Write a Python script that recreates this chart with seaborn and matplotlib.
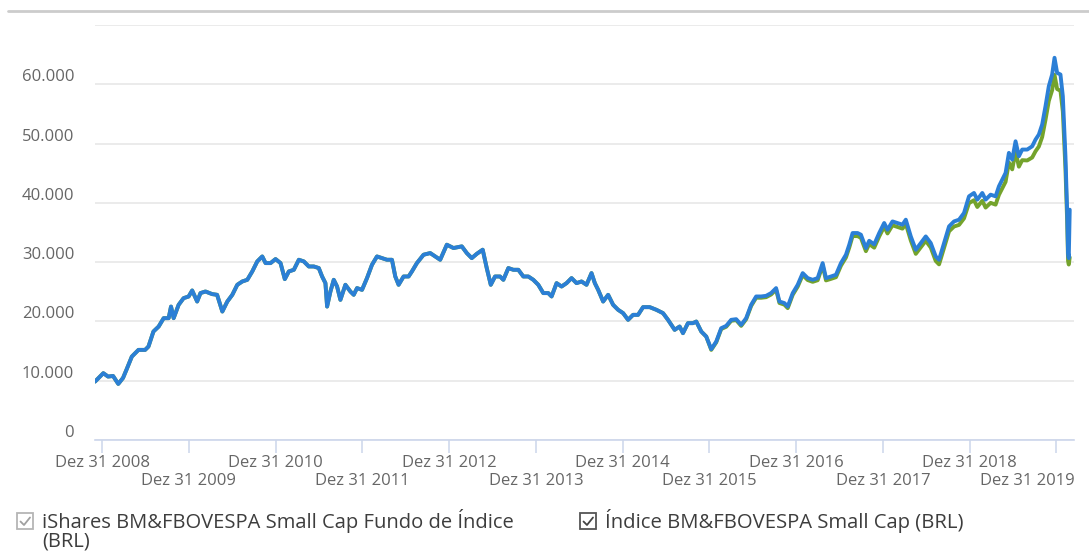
import matplotlib
matplotlib.use("Agg")
import matplotlib.pyplot as plt
import matplotlib.transforms as mtrans
from matplotlib.patches import Rectangle
from matplotlib.lines import Line2D
import seaborn as sns
import pandas as pd

# ---------------- data ----------------
dates = [
    "2008-12-01",
    "2009-01-05", "2009-01-25", "2009-02-15", "2009-03-09", "2009-03-29", "2009-04-14", "2009-05-05",
    "2009-06-02", "2009-06-30", "2009-07-14", "2009-08-04", "2009-08-26", "2009-09-16", "2009-10-07",
    "2009-10-17", "2009-10-28", "2009-11-18", "2009-12-09", "2009-12-30",
    "2010-01-14", "2010-02-04", "2010-02-18", "2010-03-11", "2010-04-08", "2010-04-29", "2010-05-21",
    "2010-06-11", "2010-07-02", "2010-07-23", "2010-08-13", "2010-09-03", "2010-09-24", "2010-10-15",
    "2010-11-05", "2010-11-19", "2010-12-10", "2010-12-31",
    "2011-01-21", "2011-02-08", "2011-02-25", "2011-03-18", "2011-04-08", "2011-04-29", "2011-05-20",
    "2011-06-10", "2011-07-01", "2011-07-15", "2011-07-29", "2011-08-05", "2011-08-19", "2011-09-02",
    "2011-09-16", "2011-09-30", "2011-10-21", "2011-11-11", "2011-11-25", "2011-12-09", "2011-12-30",
    "2012-01-20", "2012-02-10", "2012-03-02", "2012-03-23", "2012-04-13", "2012-05-04", "2012-05-18",
    "2012-06-01", "2012-06-22", "2012-07-13", "2012-07-27", "2012-08-17", "2012-09-14", "2012-10-12",
    "2012-11-02", "2012-11-23", "2012-12-21",
    "2013-01-18", "2013-02-22", "2013-03-15", "2013-04-05", "2013-04-26", "2013-05-21", "2013-06-07",
    "2013-06-24", "2013-07-12", "2013-08-02", "2013-08-16", "2013-09-06", "2013-09-27", "2013-10-18",
    "2013-11-08", "2013-11-29", "2013-12-20",
    "2014-01-10", "2014-01-31", "2014-02-21", "2014-03-07", "2014-03-28", "2014-04-18", "2014-05-09",
    "2014-05-30", "2014-06-20", "2014-07-11", "2014-08-01", "2014-08-22", "2014-09-05", "2014-09-19",
    "2014-10-10", "2014-10-31", "2014-11-21", "2014-12-12",
    "2015-01-02", "2015-01-23", "2015-02-13", "2015-03-06", "2015-03-27", "2015-04-24", "2015-05-22",
    "2015-06-19", "2015-07-10", "2015-08-07", "2015-08-28", "2015-09-11", "2015-10-02", "2015-10-23",
    "2015-11-06", "2015-11-27", "2015-12-18",
    "2016-01-08", "2016-01-29", "2016-02-19", "2016-03-11", "2016-04-01", "2016-04-22", "2016-05-13",
    "2016-06-03", "2016-06-24", "2016-07-15", "2016-08-05", "2016-08-26", "2016-09-16", "2016-10-07",
    "2016-10-21", "2016-11-11", "2016-11-25", "2016-12-16",
    "2017-01-06", "2017-01-27", "2017-02-17", "2017-03-10", "2017-03-31", "2017-04-21", "2017-05-05",
    "2017-05-26", "2017-06-16", "2017-07-07", "2017-07-28", "2017-08-11", "2017-08-25", "2017-09-15",
    "2017-09-29", "2017-10-20", "2017-11-03", "2017-11-24", "2017-12-15",
    "2018-01-05", "2018-01-19", "2018-02-09", "2018-03-02", "2018-03-23", "2018-04-06", "2018-04-27",
    "2018-05-18", "2018-06-08", "2018-06-29", "2018-07-20", "2018-08-10", "2018-08-24", "2018-09-14",
    "2018-10-05", "2018-10-26", "2018-11-16", "2018-12-07", "2018-12-28",
    "2019-01-18", "2019-02-01", "2019-02-22", "2019-03-08", "2019-03-29", "2019-04-19", "2019-05-03",
    "2019-05-17", "2019-05-31", "2019-06-14", "2019-06-28", "2019-07-12", "2019-07-26", "2019-08-09",
    "2019-08-30", "2019-09-20", "2019-10-04", "2019-10-18", "2019-11-01", "2019-11-15", "2019-11-29",
    "2019-12-13", "2019-12-23",
    "2020-01-03", "2020-01-17", "2020-01-27", "2020-02-07", "2020-02-14", "2020-02-18", "2020-02-21",
    "2020-02-25",
]

# Índice BM&FBOVESPA Small Cap (BRL) - blue line
indice = [
    9850,
    11270, 10700, 10800, 9460, 10470, 12000, 14070,
    15200, 15200, 15760, 18300, 19140, 20550, 20550,
    22510, 20550, 22800, 23930, 24200,
    25220, 23360, 24780, 25050, 24610, 24490, 21670,
    23360, 24490, 26180, 26740, 27020, 28430, 30120,
    30960, 29840, 29840, 30520,
    29840, 27140, 28430, 28710, 30400, 30120, 29270,
    29270, 29000, 27580, 26460, 22510, 25050, 27020,
    25890, 23640, 26180, 25050, 24490, 25620, 25330,
    27310, 29560, 30960, 30680, 30400, 30400, 27580,
    26180, 27580, 27580, 28430, 29840, 31250, 31530,
    30960, 30400, 32940,
    32380, 32660, 31530, 30680, 31400, 32100, 29000,
    26180, 27580, 27580, 27020, 29000, 28710, 28710,
    27580, 27580, 27020,
    26180, 24780, 24780, 24210, 26460, 25890, 26460,
    27310, 26460, 26740, 26180, 28150, 26460, 25330,
    23360, 24490, 22800, 21960,
    21400, 20270, 21110, 21110, 22410, 22410, 21960,
    21400, 20270, 18580, 19140, 18020, 19710, 19710,
    19980, 18300, 17450,
    15320, 16600, 18860, 19250, 20270, 20380, 19420,
    20550, 22800, 24210, 24210, 24320, 24780, 25620,
    23360, 23090, 22510, 24780,
    26180, 28150, 27310, 27020, 27310, 29840, 27310,
    27580, 27870, 29840, 31250, 32940, 34910, 34910,
    34630, 32380, 33600, 33000, 34910,
    36600, 35470, 36870, 36600, 36320, 37160, 34340,
    32090, 33220, 34340, 33220, 30960, 30400, 33220,
    36030, 36870, 37160, 38290, 41100,
    41670, 40540, 41670, 40540, 41380, 41100, 42790,
    43920, 45050, 48430, 47300, 50390, 47860, 48990,
    48990, 49540, 50670, 51520, 53210, 56300, 59680,
    61650, 64470,
    61930, 61650, 57980, 47860, 38850, 31530, 30680,
    38850,
]

# iShares BM&FBOVESPA Small Cap Fundo de Índice (BRL) - green line
ishares = [
    9850,
    11270, 10700, 10800, 9460, 10470, 12000, 14070,
    15200, 15200, 15760, 18300, 19140, 20550, 20550,
    22510, 20550, 22800, 23930, 24200,
    25220, 23360, 24780, 25050, 24610, 24490, 21670,
    23360, 24490, 26180, 26740, 27020, 28430, 30120,
    30960, 29840, 29840, 30520,
    29840, 27140, 28430, 28710, 30400, 30120, 29270,
    29270, 29000, 27580, 26460, 22510, 25050, 27020,
    25890, 23640, 26180, 25050, 24490, 25620, 25330,
    27310, 29560, 30960, 30680, 30400, 30400, 27580,
    26180, 27580, 27580, 28430, 29840, 31250, 31530,
    30960, 30400, 32940,
    32380, 32660, 31530, 30680, 31400, 32100, 29000,
    26180, 27580, 27580, 27020, 29000, 28710, 28710,
    27580, 27580, 27020,
    26180, 24780, 24780, 24210, 26460, 25890, 26460,
    27310, 26460, 26740, 26180, 28150, 26460, 25330,
    23360, 24490, 22800, 21960,
    21400, 20270, 21110, 21110, 22410, 22410, 21960,
    21400, 20270, 18580, 19140, 18020, 19710, 19710,
    19980, 18300, 17450,
    15200, 16470, 18720, 19100, 20110, 20220, 19250,
    20370, 22610, 24000, 23990, 24090, 24540, 25370,
    23110, 22830, 22240, 24490,
    25880, 27830, 26980, 26680, 26950, 29460, 26920,
    27180, 27460, 29400, 30790, 32460, 34400, 34390,
    34100, 31850, 33050, 32440, 34330,
    35980, 34840, 36220, 35940, 35650, 36470, 33650,
    31400, 32500, 33600, 32460, 30200, 29620, 32420,
    35200, 36010, 36280, 37380, 39950,
    40450, 39300, 40350, 39200, 40000, 39700, 41350,
    42450, 43550, 46800, 45650, 48650, 46100, 47200,
    47150, 47650, 48700, 49500, 51100, 54000, 57200,
    59000, 61600,
    59200, 58900, 55400, 45700, 37100, 30200, 29600,
    30800,
]

series_names = ["iShares BM&FBOVESPA Small Cap Fundo de Índice\n(BRL)",
                "Índice BM&FBOVESPA Small Cap (BRL)"]
series_colors = ["#74a32c", "#2b7fd6"]

x_tick_dates = ["2008-12-31", "2009-12-31", "2010-12-31", "2011-12-31", "2012-12-31", "2013-12-31",
                "2014-12-31", "2015-12-31", "2016-12-31", "2017-12-31", "2018-12-31", "2019-12-31"]
x_tick_labels = ["Dez 31 2008", "Dez 31 2009", "Dez 31 2010", "Dez 31 2011", "Dez 31 2012", "Dez 31 2013",
                 "Dez 31 2014", "Dez 31 2015", "Dez 31 2016", "Dez 31 2017", "Dez 31 2018", "Dez 31 2019"]
y_ticks = [0, 10000, 20000, 30000, 40000, 50000, 60000, 70000]
y_tick_labels = ["0", "10.000", "20.000", "30.000", "40.000", "50.000", "60.000", ""]
x_range = ["2008-12-01", "2020-03-14"]

# ---------------- figure ----------------
sns.set_theme(style="white")
plt.rcParams['font.family'] = ['Open Sans', 'DejaVu Sans']

W, H = 1089, 559
fig = plt.figure(figsize=(W / 100, H / 100), dpi=100)
fig.patch.set_facecolor("white")


def fx(px):
    return px / W


def fy(py):
    return 1 - py / H


ax = fig.add_axes([fx(95), fy(440), fx(1074) - fx(95), fy(25) - fy(440)])

n = len(dates)
df = pd.DataFrame({
    "date": pd.to_datetime(dates + dates),
    "value": ishares + indice,
    "series": [series_names[0]] * n + [series_names[1]] * n,
})

sns.lineplot(data=df, x="date", y="value", hue="series", hue_order=series_names,
             palette=dict(zip(series_names, series_colors)), linewidth=2.8,
             estimator=None, legend=False, ax=ax)

ax.set_xlim(pd.to_datetime(x_range[0]), pd.to_datetime(x_range[1]))
ax.set_ylim(0, 70000)
ax.set_xlabel("")
ax.set_ylabel("")

# grid & spines
ax.set_yticks(y_ticks)
ax.set_yticklabels(y_tick_labels)
ax.yaxis.grid(True, color="#e6e6e6", linewidth=1.1)
ax.xaxis.grid(False)
for s in ["top", "right", "left"]:
    ax.spines[s].set_visible(False)
ax.spines["bottom"].set_color("#ccd6eb")
ax.spines["bottom"].set_linewidth(1.2)
ax.set_axisbelow(True)

ax.tick_params(axis="y", length=0, pad=15, labelsize=12, labelcolor="#666666")
offset = mtrans.ScaledTranslation(0, 9 / 100, fig.dpi_scale_trans)
for lbl in ax.get_yticklabels():
    lbl.set_transform(lbl.get_transform() + offset)

# x ticks: even-year labels on first row (major), odd-year on second row (minor)
tick_dt = pd.to_datetime(x_tick_dates)
ax.set_xticks(tick_dt[0::2])
ax.set_xticklabels(x_tick_labels[0::2])
ax.set_xticks(tick_dt[1::2], minor=True)
ax.set_xticklabels(x_tick_labels[1::2], minor=True)
ax.tick_params(axis="x", which="both", direction="out", length=9, width=1.1, color="#ccd6eb",
               labelsize=12, labelcolor="#666666", bottom=True)
ax.tick_params(axis="x", which="major", pad=1.5)
ax.tick_params(axis="x", which="minor", pad=15)

# the last label is pushed left so that it stays inside the chart
last_lbl = ax.get_xticklabels(minor=True)[-1]
last_lbl.set_transform(last_lbl.get_transform()
                       + mtrans.ScaledTranslation(-29 / 100, 0, fig.dpi_scale_trans))

# top separator line
fig.add_artist(Line2D([fx(8), fx(1089)], [fy(11), fy(11)], transform=fig.transFigure,
                      color="#cccccc", linewidth=2))


# legend drawn as checkboxes + text
def checkbox(x0, y0, size, edge, check):
    fig.add_artist(Rectangle((fx(x0), fy(y0 + size)), size / W, size / H, transform=fig.transFigure,
                             facecolor="white", edgecolor=edge, linewidth=1.3))
    fig.add_artist(Line2D([fx(x0 + 3.5), fx(x0 + 7), fx(x0 + 13)],
                          [fy(y0 + 8.5), fy(y0 + 12), fy(y0 + 4.5)],
                          transform=fig.transFigure, color=check, linewidth=1.3))


checkbox(17, 513, 16, "#b5b5b5", "#a0a0a0")
fig.text(fx(42), fy(521), "iShares BM&FBOVESPA Small Cap Fundo de Índice",
         fontsize=14.5, color="#3d3d3d", va="center", ha="left")
fig.text(fx(42), fy(542), "(BRL)", fontsize=14.5, color="#3d3d3d", va="center", ha="left")

checkbox(580, 513, 16, "#555555", "#444444")
fig.text(fx(605), fy(521), "Índice BM&FBOVESPA Small Cap (BRL)",
         fontsize=14.6, color="#3d3d3d", va="center", ha="left")

fig.savefig("out.png", dpi=100, facecolor="white")
